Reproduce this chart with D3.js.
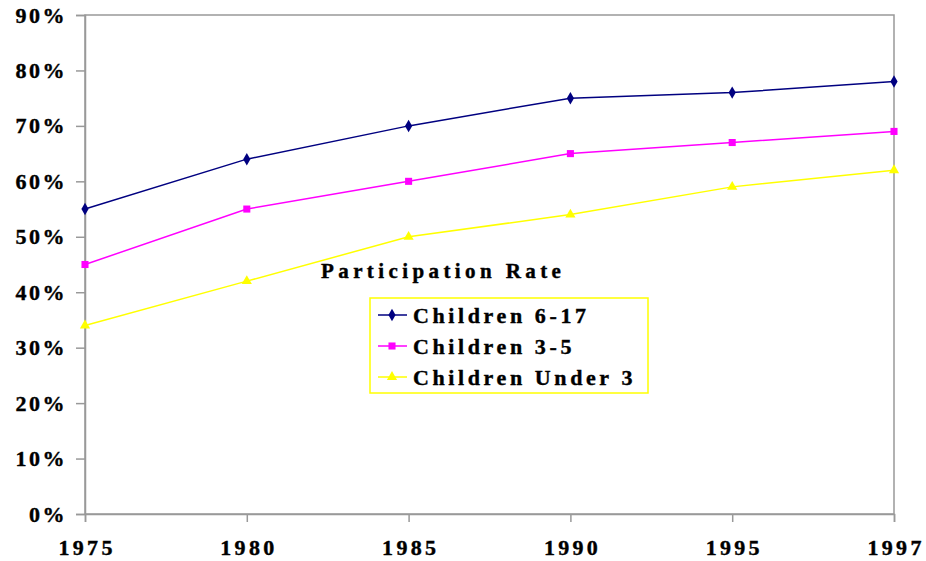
<!DOCTYPE html>
<html>
<head>
<meta charset="utf-8">
<script src="https://cdn.jsdelivr.net/npm/d3@7"></script>
<style>
  body { margin: 0; background: #fff; }
  svg text { font-family: "Liberation Serif", "Times New Roman", serif; font-weight: bold; fill: #000; stroke: #000; stroke-width: 0.4px; }
</style>
</head>
<body>
<svg id="chart" width="926" height="561"></svg>
<script>
// datos
const years = ['1975', '1980', '1985', '1990', '1995', '1997'];
const children6to17 = [55, 64, 70, 75, 76, 78];
const children3to5 = [45, 55, 60, 65, 67, 69];
const childrenUnder3 = [34, 42, 50, 54, 59, 62];
const yTicks = [0, 10, 20, 30, 40, 50, 60, 70, 80, 90];
const seriesNames = ['Children 6-17', 'Children 3-5', 'Children Under 3'];

const series = [
  { name: seriesNames[0], values: children6to17, color: '#000080', symbol: d3.symbolDiamond, size: 45 },
  { name: seriesNames[1], values: children3to5, color: '#ff00ff', symbol: d3.symbolSquare, size: 50 },
  { name: seriesNames[2], values: childrenUnder3, color: '#ffff00', symbol: d3.symbolTriangle, size: 45 }
];

const svg = d3.select('#chart');
const margenIzq = 85, margenDer = 894, margenSup = 15, margenInf = 514;

const x = d3.scalePoint().domain(years).range([margenIzq, margenDer]);
const y = d3.scaleLinear().domain([0, 90]).range([margenInf, margenSup]);

// borde del area de trazado
svg.append('rect')
  .attr('x', margenIzq).attr('y', margenSup)
  .attr('width', margenDer - margenIzq).attr('height', margenInf - margenSup)
  .attr('fill', 'none').attr('stroke', '#999').attr('stroke-width', 1.5);

const yAxis = svg.append('g')
  .attr('transform', `translate(${margenIzq},0)`)
  .call(d3.axisLeft(y).tickValues(yTicks).tickSize(9).tickPadding(9).tickFormat(d => d + '%'));
const xAxis = svg.append('g')
  .attr('transform', `translate(0,${margenInf})`)
  .call(d3.axisBottom(x).tickSize(8).tickPadding(17));

[yAxis, xAxis].forEach(eje => {
  eje.select('.domain').attr('stroke', '#999').attr('stroke-width', 1.5);
  eje.selectAll('.tick line').attr('stroke', '#999').attr('stroke-width', 1.5);
  eje.selectAll('.tick text')
    .style('font-size', '22px')
    .attr('fill', '#000');
});
yAxis.selectAll('.tick text').style('letter-spacing', '2.5px');
xAxis.selectAll('.tick text').style('letter-spacing', '3.3px').attr('dx', '1.6px');

const linea = d3.line().x((d, i) => x(years[i])).y(d => y(d));

series.forEach(s => {
  svg.append('path')
    .datum(s.values)
    .attr('fill', 'none')
    .attr('stroke', s.color)
    .attr('stroke-width', 1.5)
    .attr('d', linea);
  svg.selectAll(null)
    .data(s.values)
    .enter().append('path')
    .attr('transform', (d, i) => `translate(${x(years[i])},${y(d)})`)
    .attr('d', d3.symbol().type(s.symbol).size(s.size))
    .attr('fill', s.color);
});

// titulo
svg.append('text')
  .attr('x', 321).attr('y', 278)
  .style('font-size', '21px')
  .style('letter-spacing', '4.4px')
  .text('Participation Rate');

// leyenda
const leyenda = svg.append('g').attr('transform', 'translate(370,298)');
leyenda.append('rect')
  .attr('width', 278).attr('height', 95)
  .attr('fill', '#fff').attr('stroke', '#ffff00').attr('stroke-width', 1.5);

const filas = leyenda.selectAll('.fila')
  .data(series)
  .enter().append('g')
  .attr('transform', (d, i) => `translate(0,${17 + i * 31})`);
filas.append('line')
  .attr('x1', 8).attr('x2', 37)
  .attr('stroke', d => d.color).attr('stroke-width', 1.5);
filas.append('path')
  .attr('transform', 'translate(22,0)')
  .attr('d', d => d3.symbol().type(d.symbol).size(d.size)())
  .attr('fill', d => d.color);
filas.append('text')
  .attr('x', 43).attr('dy', '0.35em')
  .style('font-size', '22px')
  .style('letter-spacing', '3.6px')
  .text(d => d.name);
</script>
</body>
</html>
